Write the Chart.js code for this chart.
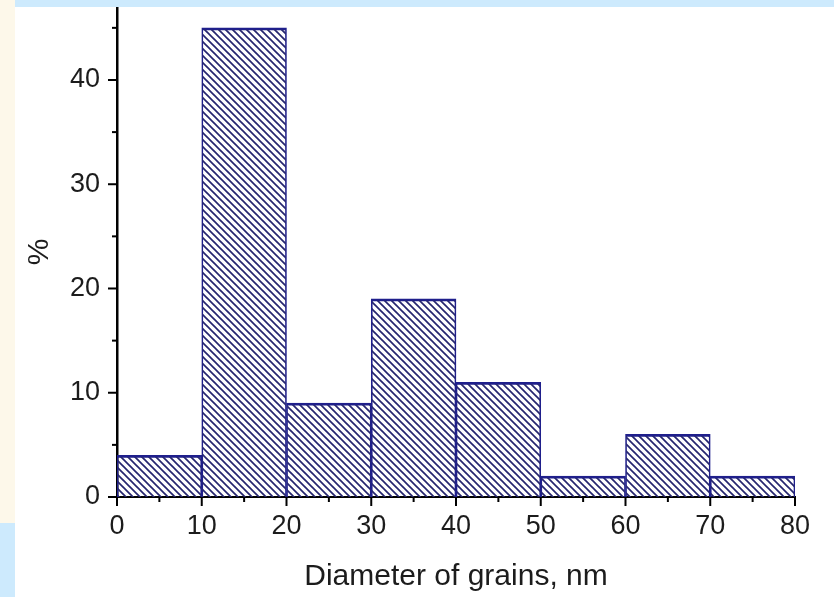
<!DOCTYPE html>
<html>
<head>
<meta charset="utf-8">
<script src="https://cdn.jsdelivr.net/npm/chart.js@4.4.1/dist/chart.umd.min.js"></script>
<style>
  html, body { margin: 0; padding: 0; background: #fff; }
  #wrap { position: relative; width: 834px; height: 597px; overflow: hidden; background: #fff; }
  #cream { position: absolute; left: 0; top: 0; width: 15px; height: 523px; background: #fdf8ea; }
  #blueLeft { position: absolute; left: 0; top: 523px; width: 15px; height: 74px; background: #cdeafd; }
  #blueTop { position: absolute; left: 15px; top: 0; width: 819px; height: 7px; background: #cdeafd; z-index: 2; }
  #chart { position: absolute; left: 0; top: 0; }
</style>
</head>
<body>
<div id="wrap">
  <div id="cream"></div>
  <div id="blueLeft"></div>
  <canvas id="chart" width="834" height="597"></canvas>
  <div id="blueTop"></div>
</div>
<script>
// histogram bins (nm) and share of grains (%)
const binEdges = [0, 10, 20, 30, 40, 50, 60, 70, 80];
const percent = [4, 45, 9, 19, 11, 2, 6, 2];
const xTicks = [0, 10, 20, 30, 40, 50, 60, 70, 80];
const yTicks = [0, 10, 20, 30, 40];

const navy = '#1f1f8c';
const inkColor = '#1c1c1c';

// diagonal hatch fill
function hatch() {
  const n = 7;
  const c = document.createElement('canvas');
  c.width = n; c.height = n;
  const g = c.getContext('2d');
  g.strokeStyle = '#262670';
  g.lineWidth = 1.7;
  for (const k of [-n, 0, n]) {
    g.beginPath();
    g.moveTo(k - 1, -1);
    g.lineTo(k + n + 1, n + 1);
    g.stroke();
  }
  return g.createPattern(c, 'repeat');
}

const points = percent.map((v, i) => ({ x: (binEdges[i] + binEdges[i + 1]) / 2, y: v }));

// outward major / minor tick marks
const tickMarks = {
  id: 'tickMarks',
  afterDraw(chart) {
    const ctx = chart.ctx;
    const xs = chart.scales.x, ys = chart.scales.y;
    const a = chart.chartArea;
    ctx.save();
    ctx.strokeStyle = '#000';
    ctx.lineWidth = 2;
    for (let v = 0; v <= 80; v += 5) {
      const px = xs.getPixelForValue(v);
      const len = v % 10 === 0 ? 9 : 5;
      ctx.beginPath();
      ctx.moveTo(px, a.bottom);
      ctx.lineTo(px, a.bottom + len);
      ctx.stroke();
    }
    for (let v = 0; v <= 45; v += 5) {
      const py = ys.getPixelForValue(v);
      const len = v % 10 === 0 ? 9 : 5;
      ctx.beginPath();
      ctx.moveTo(a.left, py);
      ctx.lineTo(a.left - len, py);
      ctx.stroke();
    }
    ctx.restore();
  }
};

new Chart(document.getElementById('chart'), {
  type: 'bar',
  data: {
    datasets: [{
      data: points,
      backgroundColor: hatch(),
      borderColor: navy,
      borderWidth: { top: 2, left: 1, right: 1, bottom: 0 },
      barPercentage: 1,
      categoryPercentage: 1
    }]
  },
  options: {
    responsive: false,
    animation: false,
    layout: { padding: { top: 7, right: 39, left: 0, bottom: 0 } },
    plugins: { legend: { display: false }, tooltip: { enabled: false } },
    scales: {
      x: {
        type: 'linear',
        min: 0,
        max: 80,
        offset: false,
        afterBuildTicks: s => { s.ticks = xTicks.map(v => ({ value: v })); },
        afterFit: s => { s.height = 100; },
        grid: { display: false, drawTicks: false },
        border: { display: true, color: '#000', width: 2 },
        ticks: { padding: 13, color: inkColor, font: { family: 'Liberation Sans', size: 27 } },
        title: { display: true, text: 'Diameter of grains, nm', color: inkColor,
                 font: { family: 'Liberation Sans', size: 30 }, padding: { top: 0, bottom: 2 } }
      },
      y: {
        min: 0,
        max: 47,
        afterBuildTicks: s => { s.ticks = yTicks.map(v => ({ value: v })); },
        afterFit: s => { s.width = 117; s.paddingTop = 0; s.paddingBottom = 0; },
        grid: { display: false, drawTicks: false },
        border: { display: true, color: '#000', width: 2.5 },
        ticks: { padding: 17, color: inkColor, font: { family: 'Liberation Sans', size: 27 } },
        title: { display: true, text: '%', color: inkColor,
                 font: { family: 'Liberation Sans', size: 30 }, padding: { top: 22, bottom: 0 } }
      }
    }
  },
  plugins: [tickMarks]
});
</script>
</body>
</html>
